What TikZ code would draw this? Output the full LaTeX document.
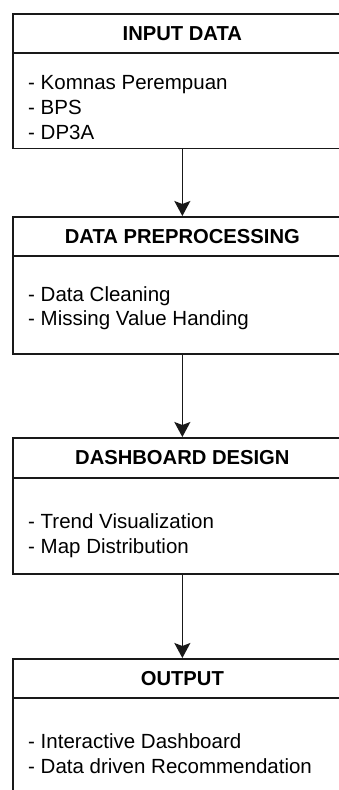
\documentclass[tikz,border=0pt]{standalone}
\usepackage{fontspec}
\setmainfont{Liberation Sans}
\usetikzlibrary{arrows.meta}
\begin{document}
\begin{tikzpicture}[x=1pt,y=-1pt,
  boxline/.style={draw=black!90, line width=1.7pt},
  hdr/.style={boxline, rectangle, minimum width=339pt, inner sep=0pt, anchor=north west,
    font=\fontsize{20.2}{24}\selectfont\bfseries},
  bodybox/.style={boxline, rectangle, minimum width=339pt, inner sep=0pt, anchor=north west},
  bodytext/.style={inner sep=0pt, anchor=north west, align=left,
    font=\fontsize{20.5}{24.7}\selectfont},
  arr/.style={draw=black!90, line width=1.6pt, -{Stealth[length=15pt,width=16pt,inset=3pt]}}
]
\useasboundingbox (0,0) rectangle (339,790);
\clip (0,0) rectangle (339,790);
\fill[white] (0,0) rectangle (339,790);

% Box 1
\node[hdr, minimum height=39pt] (h1) at (12,13) {INPUT DATA};
\node[bodybox, minimum height=95.5pt] (d1) at (12,52) {};
\node[bodytext] (t1) at (28,75.3) {- Komnas Perempuan\\- BPS\\- DP3A};

% Box 2
\node[hdr, minimum height=39pt] (h2) at (12,216) {DATA PREPROCESSING};
\node[bodybox, minimum height=98pt] (d2) at (12,255) {};
\node[bodytext] (t2) at (28,286) {- Data Cleaning\\- Missing Value Handing};

% Box 3
\node[hdr, minimum height=40pt] (h3) at (12,437) {DASHBOARD DESIGN};
\node[bodybox, minimum height=96pt] (d3) at (12,477) {};
\node[bodytext] (t3) at (28,513.6) {- Trend Visualization\\- Map Distribution};

% Box 4
\node[hdr, minimum height=39pt] (h4) at (12,658) {OUTPUT};
\node[bodybox, minimum height=120pt] (d4) at (12,697) {};
\node[bodytext] (t4) at (28,733.6) {- Interactive Dashboard\\- Data driven Recommendation};

% Connectors
\draw[arr] (d1.south) -- (h2.north);
\draw[arr] (d2.south) -- (h3.north);
\draw[arr] (d3.south) -- (h4.north);
\end{tikzpicture}
\end{document}
